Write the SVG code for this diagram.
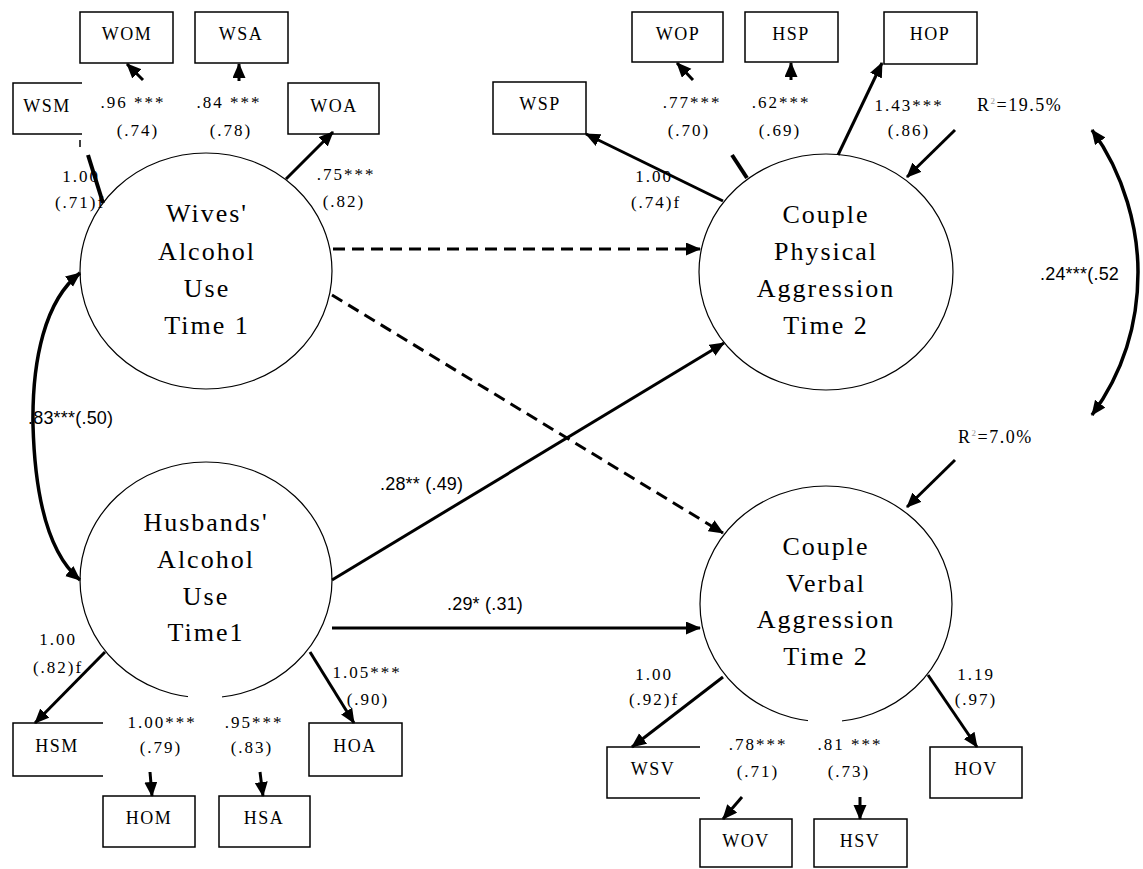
<svg xmlns="http://www.w3.org/2000/svg" width="1143" height="869" viewBox="0 0 1143 869">
<defs>
<marker id="ah" markerUnits="userSpaceOnUse" markerWidth="16" markerHeight="14" refX="14" refY="6.5" orient="auto-start-reverse">
<path d="M0,0 L15,6.5 L0,13 z" fill="#000"/>
</marker>
</defs>
<style>
.lat{fill:#fff;stroke:#000;stroke-width:1.2}
.box{fill:#fff;stroke:#000;stroke-width:1.5}
.ltxt{font-family:"Liberation Serif",serif;font-size:26px;letter-spacing:2px;text-anchor:middle;fill:#000}
.btxt{font-family:"Liberation Serif",serif;font-size:18px;letter-spacing:1.5px;text-anchor:middle;fill:#000}
.lab{font-family:"Liberation Serif",serif;font-size:17px;letter-spacing:2px;text-anchor:middle;fill:#000}
.sans{font-family:"Liberation Sans",sans-serif;font-size:18px;letter-spacing:0.2px;fill:#000}
.ser{font-family:"Liberation Serif",serif;font-size:18px;letter-spacing:1.5px;fill:#000}
.a{stroke:#000;stroke-width:3;fill:none;marker-end:url(#ah)}
.d{stroke:#000;stroke-width:3;fill:none;stroke-dasharray:12 7;marker-end:url(#ah)}
</style>
<rect width="1143" height="869" fill="#fff"/>

<g id="wives">
<ellipse class="lat" cx="206" cy="271" rx="126" ry="118"/>
<text class="ltxt" x="207" y="222">Wives'</text>
<text class="ltxt" x="207" y="260">Alcohol</text>
<text class="ltxt" x="207" y="297">Use</text>
<text class="ltxt" x="207" y="334">Time 1</text>
</g>
<g id="husbands">
<ellipse class="lat" cx="206" cy="580" rx="126" ry="118"/>
<rect x="188" y="690" width="34" height="10" fill="#fff"/>
<text class="ltxt" x="206" y="531">Husbands'</text>
<text class="ltxt" x="206" y="568">Alcohol</text>
<text class="ltxt" x="206" y="605">Use</text>
<text class="ltxt" x="206" y="641">Time1</text>
</g>
<g id="physical">
<ellipse class="lat" cx="826" cy="272" rx="127" ry="118"/>
<text class="ltxt" x="826" y="223">Couple</text>
<text class="ltxt" x="826" y="260">Physical</text>
<text class="ltxt" x="826" y="297">Aggression</text>
<text class="ltxt" x="826" y="334">Time 2</text>
</g>
<g id="verbal">
<ellipse class="lat" cx="826" cy="604" rx="126" ry="118"/>
<rect x="808" y="715" width="34" height="10" fill="#fff"/>
<text class="ltxt" x="826" y="555">Couple</text>
<text class="ltxt" x="826" y="592">Verbal</text>
<text class="ltxt" x="826" y="628">Aggression</text>
<text class="ltxt" x="826" y="665">Time 2</text>
</g>

<g id="WSM"><path class="box" d="M82,83 H13 V134 H82"/><text class="btxt" x="47" y="112">WSM</text></g>
<g id="WOM"><rect class="box" x="80" y="12" width="93" height="51"/><text class="btxt" x="127" y="40">WOM</text></g>
<g id="WSA"><rect class="box" x="195" y="12" width="93" height="51"/><text class="btxt" x="241" y="40">WSA</text></g>
<g id="WOA"><rect class="box" x="288" y="83" width="91" height="51"/><text class="btxt" x="334" y="112">WOA</text></g>
<g id="WSP"><rect class="box" x="493" y="82" width="93" height="52"/><text class="btxt" x="540" y="110">WSP</text></g>
<g id="WOP"><rect class="box" x="632" y="12" width="91" height="50"/><text class="btxt" x="678" y="40">WOP</text></g>
<g id="HSP"><rect class="box" x="745" y="12" width="93" height="50"/><text class="btxt" x="791" y="40">HSP</text></g>
<g id="HOP"><rect class="box" x="884" y="12" width="93" height="52"/><text class="btxt" x="930" y="40">HOP</text></g>
<g id="HSM"><path class="box" d="M103,723 H13 V776 H103"/><text class="btxt" x="57" y="752">HSM</text></g>
<g id="HOA"><rect class="box" x="309" y="723" width="93" height="53"/><text class="btxt" x="355" y="752">HOA</text></g>
<g id="HOM"><rect class="box" x="103" y="796" width="92" height="51"/><text class="btxt" x="149" y="824">HOM</text></g>
<g id="HSA"><rect class="box" x="219" y="796" width="91" height="51"/><text class="btxt" x="264" y="824">HSA</text></g>
<g id="WSV"><path class="box" d="M700,747 H607 V798 H700"/><text class="btxt" x="653" y="775">WSV</text></g>
<g id="HOV"><rect class="box" x="930" y="747" width="92" height="51"/><text class="btxt" x="976" y="775">HOV</text></g>
<g id="WOV"><rect class="box" x="700" y="819" width="92" height="48"/><text class="btxt" x="746" y="847">WOV</text></g>
<g id="HSV"><rect class="box" x="814" y="819" width="93" height="48"/><text class="btxt" x="860" y="847">HSV</text></g>

<g id="connectors">
<line x1="88" y1="155" x2="103" y2="203" stroke="#000" stroke-width="4"/>
<line x1="80" y1="140" x2="80" y2="147" stroke="#000" stroke-width="1.5"/>
<line class="a" x1="143" y1="80" x2="127" y2="64"/>
<line class="a" x1="239" y1="81" x2="239" y2="64"/>
<line class="a" x1="286" y1="179" x2="333" y2="132"/>
<line class="a" x1="723" y1="201" x2="586" y2="134" stroke-width="4"/>
<line x1="732" y1="155" x2="747" y2="178" stroke="#000" stroke-width="4"/>
<line class="a" x1="693" y1="80" x2="677" y2="63"/>
<line class="a" x1="791" y1="80" x2="791" y2="63"/>
<line class="a" x1="838" y1="155" x2="882" y2="63"/>
<line class="a" x1="955" y1="130" x2="907" y2="177"/>
<line class="a" x1="955" y1="460" x2="907" y2="507"/>
<path d="M1092,130 C1125,175 1138,230 1138,272 C1138,320 1125,370 1092,415" stroke="#000" stroke-width="3.5" fill="none" marker-start="url(#ah)" marker-end="url(#ah)"/>
<path d="M80,273 C45,300 32,360 33,425 C35,500 50,555 80,580" stroke="#000" stroke-width="3.5" fill="none" marker-start="url(#ah)" marker-end="url(#ah)"/>
<line class="d" x1="333" y1="249" x2="700" y2="249"/>
<line class="d" x1="332" y1="295" x2="723" y2="533"/>
<line class="a" x1="332" y1="580" x2="724" y2="343"/>
<line class="a" x1="332" y1="628" x2="700" y2="628"/>
<line class="a" x1="105" y1="652" x2="35" y2="723"/>
<line class="a" x1="310" y1="652" x2="354" y2="723"/>
<line class="a" x1="150" y1="772" x2="152" y2="796"/>
<line class="a" x1="260" y1="772" x2="263" y2="796"/>
<line class="a" x1="723" y1="677" x2="632" y2="747"/>
<line class="a" x1="928" y1="675" x2="977" y2="747" stroke-width="4"/>
<line class="a" x1="742" y1="797" x2="723" y2="819"/>
<line class="a" x1="860" y1="797" x2="860" y2="819"/>
</g>

<g id="labels">
<text class="lab" x="133" y="108">.96 ***</text><text class="lab" x="138" y="136">(.74)</text>
<text class="lab" x="229" y="108">.84 ***</text><text class="lab" x="231" y="136">(.78)</text>
<text class="lab" x="81" y="182">1.00</text><text class="lab" x="80" y="208">(.71)f</text>
<text class="lab" x="346" y="180">.75***</text><text class="lab" x="344" y="207">(.82)</text>
<text class="lab" x="654" y="182">1.00</text><text class="lab" x="656" y="208">(.74)f</text>
<text class="lab" x="692" y="108">.77***</text><text class="lab" x="689" y="136">(.70)</text>
<text class="lab" x="781" y="108">.62***</text><text class="lab" x="780" y="136">(.69)</text>
<text class="lab" x="909" y="111">1.43***</text><text class="lab" x="909" y="136">(.86)</text>
<text class="ser" x="977" y="111">R<tspan font-size="9" fill="#999" dy="-7">2</tspan><tspan dy="7">=19.5%</tspan></text>
<text class="ser" x="958" y="443">R<tspan font-size="9" fill="#999" dy="-7">2</tspan><tspan dy="7">=7.0%</tspan></text>
<text class="sans" x="1040" y="280">.24***(.52</text>
<text class="sans" x="28" y="424">.83***(.50)</text>
<text class="sans" x="380" y="490">.28** (.49)</text>
<text class="sans" x="447" y="610">.29* (.31)</text>
<text class="lab" x="58" y="645">1.00</text><text class="lab" x="58" y="673">(.82)f</text>
<text class="lab" x="367" y="678">1.05***</text><text class="lab" x="368" y="705">(.90)</text>
<text class="lab" x="162" y="728">1.00***</text><text class="lab" x="161" y="753">(.79)</text>
<text class="lab" x="254" y="728">.95***</text><text class="lab" x="252" y="753">(.83)</text>
<text class="lab" x="654" y="680">1.00</text><text class="lab" x="654" y="705">(.92)f</text>
<text class="lab" x="976" y="680">1.19</text><text class="lab" x="976" y="705">(.97)</text>
<text class="lab" x="758" y="750">.78***</text><text class="lab" x="758" y="777">(.71)</text>
<text class="lab" x="850" y="750">.81 ***</text><text class="lab" x="849" y="777">(.73)</text>
</g>
</svg>
